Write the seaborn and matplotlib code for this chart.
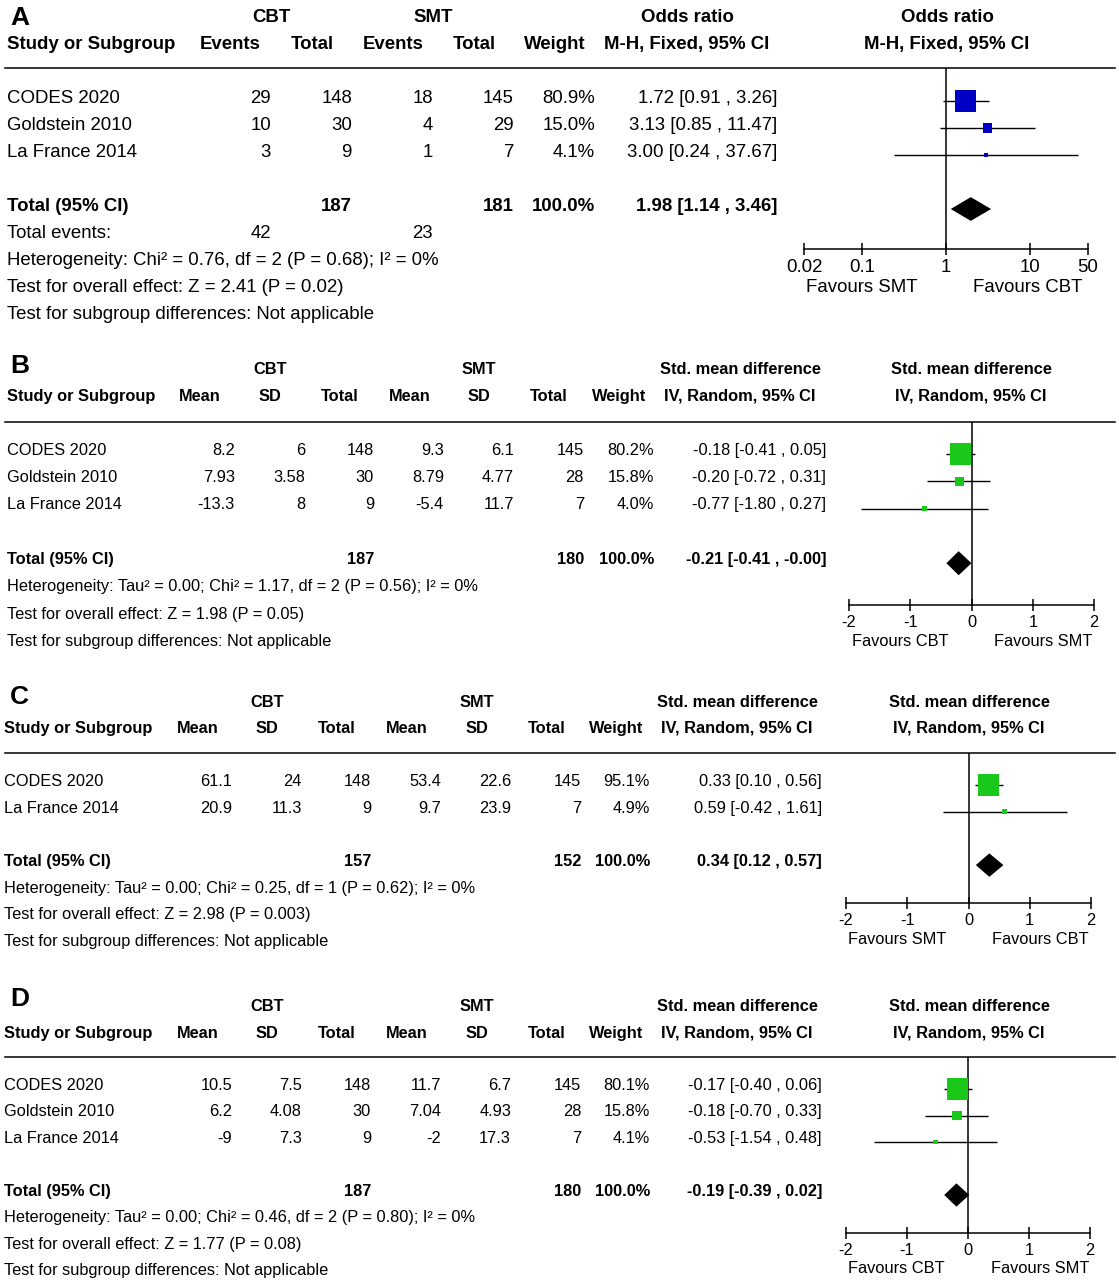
import numpy as np
import matplotlib
matplotlib.use('Agg')
import matplotlib.pyplot as plt
import seaborn as sns
from matplotlib import font_manager

# ---------------- data ----------------
# A: odds ratio, fixed effect
studies_a = ['CODES 2020', 'Goldstein 2010', 'La France 2014']
cbt_events_a = [29, 10, 3]
cbt_n_a = [148, 30, 9]
smt_events_a = [18, 4, 1]
smt_n_a = [145, 29, 7]
weight_a = [80.9, 15.0, 4.1]
or_a = [1.72, 3.13, 3.00]
or_lo_a = [0.91, 0.85, 0.24]
or_hi_a = [3.26, 11.47, 37.67]
or_total_a = [1.98, 1.14, 3.46]
n_total_a = [187, 181]
events_total_a = [42, 23]
notes_a = ['Heterogeneity: Chi² = 0.76, df = 2 (P = 0.68); I² = 0%',
           'Test for overall effect: Z = 2.41 (P = 0.02)',
           'Test for subgroup differences: Not applicable']
ticks_a = [0.02, 0.1, 1, 10, 50]
tick_labels_a = ['0.02', '0.1', '1', '10', '50']
favours_a = ['Favours SMT', 'Favours CBT']

# B: std. mean difference
studies_b = ['CODES 2020', 'Goldstein 2010', 'La France 2014']
cbt_mean_b = [8.2, 7.93, -13.3]
cbt_sd_b = [6, 3.58, 8]
cbt_n_b = [148, 30, 9]
smt_mean_b = [9.3, 8.79, -5.4]
smt_sd_b = [6.1, 4.77, 11.7]
smt_n_b = [145, 28, 7]
weight_b = [80.2, 15.8, 4.0]
smd_b = [-0.18, -0.20, -0.77]
smd_lo_b = [-0.41, -0.72, -1.80]
smd_hi_b = [0.05, 0.31, 0.27]
smd_total_b = [-0.21, -0.41, -0.0]
n_total_b = [187, 180]
notes_b = ['Heterogeneity: Tau² = 0.00; Chi² = 1.17, df = 2 (P = 0.56); I² = 0%',
           'Test for overall effect: Z = 1.98 (P = 0.05)',
           'Test for subgroup differences: Not applicable']
favours_b = ['Favours CBT', 'Favours SMT']

# C
studies_c = ['CODES 2020', 'La France 2014']
cbt_mean_c = [61.1, 20.9]
cbt_sd_c = [24, 11.3]
cbt_n_c = [148, 9]
smt_mean_c = [53.4, 9.7]
smt_sd_c = [22.6, 23.9]
smt_n_c = [145, 7]
weight_c = [95.1, 4.9]
smd_c = [0.33, 0.59]
smd_lo_c = [0.10, -0.42]
smd_hi_c = [0.56, 1.61]
smd_total_c = [0.34, 0.12, 0.57]
n_total_c = [157, 152]
notes_c = ['Heterogeneity: Tau² = 0.00; Chi² = 0.25, df = 1 (P = 0.62); I² = 0%',
           'Test for overall effect: Z = 2.98 (P = 0.003)',
           'Test for subgroup differences: Not applicable']
favours_c = ['Favours SMT', 'Favours CBT']

# D
studies_d = ['CODES 2020', 'Goldstein 2010', 'La France 2014']
cbt_mean_d = [10.5, 6.2, -9]
cbt_sd_d = [7.5, 4.08, 7.3]
cbt_n_d = [148, 30, 9]
smt_mean_d = [11.7, 7.04, -2]
smt_sd_d = [6.7, 4.93, 17.3]
smt_n_d = [145, 28, 7]
weight_d = [80.1, 15.8, 4.1]
smd_d = [-0.17, -0.18, -0.53]
smd_lo_d = [-0.40, -0.70, -1.54]
smd_hi_d = [0.06, 0.33, 0.48]
smd_total_d = [-0.19, -0.39, 0.02]
n_total_d = [187, 180]
notes_d = ['Heterogeneity: Tau² = 0.00; Chi² = 0.46, df = 2 (P = 0.80); I² = 0%',
           'Test for overall effect: Z = 1.77 (P = 0.08)',
           'Test for subgroup differences: Not applicable']
favours_d = ['Favours CBT', 'Favours SMT']

ticks_smd = [-2, -1, 0, 1, 2]
tick_labels_smd = ['-2', '-1', '0', '1', '2']

# ---------------- layout (pixels) ----------------
W, H = 1119, 1280
names = {f.name for f in font_manager.fontManager.ttflist}
FAM_A, SIZE_A = 'Liberation Sans', 13.4
if 'Liberation Sans Narrow' in names:
    FAM_N, SIZE_N = 'Liberation Sans Narrow', 14
else:
    FAM_N, SIZE_N = 'Liberation Sans', 11.8

lay_a = dict(letter='A', ly=15.5, head1=15, head2=42, line=68, row0=96, sp=27, axis=249,
             xr=(804, 1088), fav=(862, 1028), favy=285, sx=7)
lay_b = dict(letter='B', ly=364, head1=368, head2=395, line=422, row0=449, sp=27.3, axis=605,
             xr=(849, 1094), fav=(900, 1043), favy=640, sx=7)
lay_c = dict(letter='C', ly=695, head1=701, head2=727, line=753, row0=780, sp=26.7, axis=903,
             xr=(846, 1091), fav=(897, 1040), favy=938, sx=4)
lay_d = dict(letter='D', ly=997, head1=1005, head2=1032, line=1057, row0=1084, sp=26.5, axis=1233,
             xr=(846, 1090), fav=(896, 1040), favy=1267, sx=4)

# (header centre, value right edge)
cols_a = [(230, 271), (312, 352), (393, 433), (474, 514), (555, 595), (687, 777)]
groups_a = [271, 433, 687, 947]
cols_b = [(200, 235), (270, 305), (340, 374), (410, 444), (479, 514), (549, 584), (619, 654), (740, 826)]
groups_b = [270, 479, 740, 971]
cols_cd = [(198, 232), (267, 302), (337, 371), (407, 441), (477, 511), (547, 581), (616, 650), (737, 822)]
groups_cd = [267, 477, 737, 969]

BLUE = '#0000c4'
GREEN = '#19c819'

fig = plt.figure(figsize=(W / 100, H / 100), dpi=100)
tx = fig.add_axes([0, 0, 1, 1])
tx.set_xlim(0, W)
tx.set_ylim(H, 0)
tx.axis('off')


def put(x, y, s, fam, size, ha='left', bold=False):
    tx.text(x, y + 0.358 * size * 100 / 72, s, ha=ha, va='baseline', family=fam,
            fontsize=size, fontweight='bold' if bold else 'normal')


def fmt_ci(v):
    return '%.2f [%.2f , %.2f]' % (v[0], v[1], v[2])


def forest(lay, est, lo, hi, weight, total, color, fam, size, ticks, labels, log=False):
    x0, x1 = lay['xr']
    top, bot = lay['line'], lay['axis']
    ax = fig.add_axes([x0 / W, 1 - bot / H, (x1 - x0) / W, (bot - top) / H])
    ax.patch.set_visible(False)
    n = len(est)
    rows = np.arange(n)
    r0 = lay['row0'] + 5
    sp = lay['sp']
    if log:
        ax.set_xscale('log')
    ax.axvline(1 if log else 0, color='black', lw=1.1, zorder=1)
    ax.hlines(rows, lo, hi, color='black', lw=1.0, zorder=2)
    sns.scatterplot(x=est, y=rows, size=weight, sizes=(0, 230), size_norm=(0, max(weight)),
                    marker='s', color=color, linewidth=0, legend=False, ax=ax, zorder=3)
    tr = n + 1
    h = 0.44
    ax.fill([total[1], total[0], total[2], total[0]], [tr, tr - h, tr, tr + h],
            color='black', lw=0, zorder=3)
    ax.set_xlim(ticks[0], ticks[-1])
    ax.set_ylim((bot - r0) / sp, (top - r0) / sp)
    ax.set_xticks(ticks, labels, fontfamily=fam, fontsize=size)
    ax.xaxis.set_minor_locator(matplotlib.ticker.NullLocator())
    ax.set_yticks([])
    ax.set_xlabel('')
    ax.set_ylabel('')
    sns.despine(ax=ax, left=True)
    ax.spines['bottom'].set_linewidth(1.1)
    ax.tick_params(axis='x', direction='inout', length=8, width=1.1, pad=3, colors='black')
    put(lay['fav'][0], lay['favy'], '', fam, size)
    return ax


def panel_common(lay, fam, size, notes_start, notes, fav):
    tx.plot([5, 1115], [lay['line'], lay['line']], color='black', lw=1.1)
    put(10, lay['ly'], lay['letter'], 'Liberation Sans', 19, bold=True)
    put(lay['sx'], lay['head2'], 'Study or Subgroup', fam, size, bold=True)
    for k, s in enumerate(notes):
        put(lay['sx'], notes_start + lay['sp'] * k, s, fam, size)
    put(lay['fav'][0], lay['favy'], fav[0], fam, size, ha='center')
    put(lay['fav'][1], lay['favy'], fav[1], fam, size, ha='center')


# ---------------- panel A ----------------
lay = lay_a
fam, size = FAM_A, SIZE_A
for gx, g in zip(groups_a, ['CBT', 'SMT', 'Odds ratio', 'Odds ratio']):
    put(gx, lay['head1'], g, fam, size, ha='center', bold=True)
for (hx, _), h in zip(cols_a, ['Events', 'Total', 'Events', 'Total', 'Weight', 'M-H, Fixed, 95% CI']):
    put(hx, lay['head2'], h, fam, size, ha='center', bold=True)
put(groups_a[3], lay['head2'], 'M-H, Fixed, 95% CI', fam, size, ha='center', bold=True)
for i, s in enumerate(studies_a):
    y = lay['row0'] + lay['sp'] * i
    put(lay['sx'], y, s, fam, size)
    vals = [str(cbt_events_a[i]), str(cbt_n_a[i]), str(smt_events_a[i]), str(smt_n_a[i]),
            '%.1f%%' % weight_a[i], fmt_ci([or_a[i], or_lo_a[i], or_hi_a[i]])]
    for (_, rx), v in zip(cols_a, vals):
        put(rx, y, v, fam, size, ha='right')
yt = lay['row0'] + lay['sp'] * (len(studies_a) + 1)
put(lay['sx'], yt, 'Total (95% CI)', fam, size, bold=True)
put(cols_a[1][1], yt, str(n_total_a[0]), fam, size, ha='right', bold=True)
put(cols_a[3][1], yt, str(n_total_a[1]), fam, size, ha='right', bold=True)
put(cols_a[4][1], yt, '100.0%', fam, size, ha='right', bold=True)
put(cols_a[5][1], yt, fmt_ci(or_total_a), fam, size, ha='right', bold=True)
put(lay['sx'], yt + lay['sp'], 'Total events:', fam, size)
put(cols_a[0][1], yt + lay['sp'], str(events_total_a[0]), fam, size, ha='right')
put(cols_a[2][1], yt + lay['sp'], str(events_total_a[1]), fam, size, ha='right')
panel_common(lay, fam, size, yt + 2 * lay['sp'], notes_a, favours_a)
forest(lay, or_a, or_lo_a, or_hi_a, weight_a, or_total_a, BLUE, fam, size,
       ticks_a, tick_labels_a, log=True)

# ---------------- panels B, C, D ----------------
panels = [
    (lay_b, cols_b, groups_b, studies_b, cbt_mean_b, cbt_sd_b, cbt_n_b, smt_mean_b, smt_sd_b, smt_n_b,
     weight_b, smd_b, smd_lo_b, smd_hi_b, smd_total_b, n_total_b, notes_b, favours_b),
    (lay_c, cols_cd, groups_cd, studies_c, cbt_mean_c, cbt_sd_c, cbt_n_c, smt_mean_c, smt_sd_c, smt_n_c,
     weight_c, smd_c, smd_lo_c, smd_hi_c, smd_total_c, n_total_c, notes_c, favours_c),
    (lay_d, cols_cd, groups_cd, studies_d, cbt_mean_d, cbt_sd_d, cbt_n_d, smt_mean_d, smt_sd_d, smt_n_d,
     weight_d, smd_d, smd_lo_d, smd_hi_d, smd_total_d, n_total_d, notes_d, favours_d),
]
fam, size = FAM_N, SIZE_N
for (lay, cols, groups, studies, cm, csd, cn, sm, ssd, sn, wt, est, lo, hi, tot, ntot, notes, fav) in panels:
    for gx, g in zip(groups, ['CBT', 'SMT', 'Std. mean difference', 'Std. mean difference']):
        put(gx, lay['head1'], g, fam, size, ha='center', bold=True)
    heads = ['Mean', 'SD', 'Total', 'Mean', 'SD', 'Total', 'Weight', 'IV, Random, 95% CI']
    for (hx, _), h in zip(cols, heads):
        put(hx, lay['head2'], h, fam, size, ha='center', bold=True)
    put(groups[3], lay['head2'], 'IV, Random, 95% CI', fam, size, ha='center', bold=True)
    for i, s in enumerate(studies):
        y = lay['row0'] + lay['sp'] * i
        put(lay['sx'], y, s, fam, size)
        vals = ['%g' % cm[i], '%g' % csd[i], str(cn[i]), '%g' % sm[i], '%g' % ssd[i], str(sn[i]),
                '%.1f%%' % wt[i], fmt_ci([est[i], lo[i], hi[i]])]
        for (_, rx), v in zip(cols, vals):
            put(rx, y, v, fam, size, ha='right')
    yt = lay['row0'] + lay['sp'] * (len(studies) + 1)
    put(lay['sx'], yt, 'Total (95% CI)', fam, size, bold=True)
    put(cols[2][1], yt, str(ntot[0]), fam, size, ha='right', bold=True)
    put(cols[5][1], yt, str(ntot[1]), fam, size, ha='right', bold=True)
    put(cols[6][1], yt, '100.0%', fam, size, ha='right', bold=True)
    put(cols[7][1], yt, fmt_ci(tot), fam, size, ha='right', bold=True)
    panel_common(lay, fam, size, yt + lay['sp'], notes, fav)
    forest(lay, est, lo, hi, wt, tot, GREEN, fam, size, ticks_smd, tick_labels_smd)

fig.savefig('out.png', dpi=100, facecolor='white')
